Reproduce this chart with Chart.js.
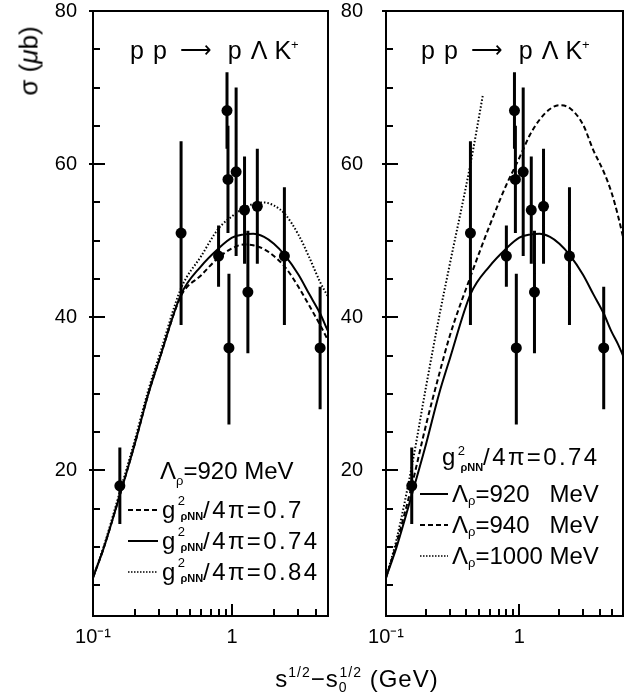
<!DOCTYPE html>
<html>
<head>
<meta charset="utf-8">
<script src="https://cdn.jsdelivr.net/npm/chart.js@4/dist/chart.umd.min.js"></script>
<style>
  body { margin: 0; background: #fff; }
  #wrap { position: relative; width: 632px; height: 696px; font-family: "Liberation Sans", Arial, sans-serif; color: #000; }
  canvas { position: absolute; top: 0; }
  #c1 { left: 0; }
  #c2 { left: 340px; }
  .t { position: absolute; white-space: nowrap; line-height: 1; transform: translateY(-50%); }
  .title { font-size: 25px; }
  .title .arr { font-size: 22px; position: relative; top: -2px; }
  .leg { font-size: 24px; }
  .g { letter-spacing: 2.4px; }
  .up { font-size: 13px; position: relative; top: -10px; }
  .dn { font-size: 11px; font-weight: bold; position: relative; top: 6px; margin-left: -7px; letter-spacing: 0; }
  .lsub { font-size: 13px; position: relative; top: 6px; }
  .row { display: flex; align-items: center; }
  .row svg { margin-right: 4px; }
  #ytitle { position: absolute; left: 29px; top: 61px; font-size: 26px; transform: translate(-50%, -50%) rotate(-90deg); white-space: nowrap; }
  #xtitle { position: absolute; left: 357px; top: 679px; font-size: 24px; letter-spacing: 1px; transform: translate(-50%, -50%); white-space: nowrap; }
  .xs { font-size: 14px; }
</style>
</head>
<body>
<div id="wrap">
  <canvas id="c1" width="340" height="696"></canvas>
  <canvas id="c2" width="292" height="696"></canvas>

  <div id="ytitle">σ (<i>μ</i>b)</div>
  <div id="xtitle">s<span class="xs" style="position:relative;top:-10px">1/2</span>−s<span class="xs" style="position:relative;top:5px">0</span><span class="xs" style="position:relative;top:-10px;margin-left:-8px">1/2</span> (GeV)</div>

  <div class="t title" style="left:130px; top:50px">p<span style="margin-left:9px">p</span><span class="arr" style="margin-left:13px">⟶</span><span style="margin-left:16px">p</span><span style="margin-left:9px">Λ</span><span style="margin-left:7px">K</span><span class="up">+</span></div>
  <div class="t title" style="left:421px; top:50px">p<span style="margin-left:9px">p</span><span class="arr" style="margin-left:13px">⟶</span><span style="margin-left:16px">p</span><span style="margin-left:9px">Λ</span><span style="margin-left:7px">K</span><span class="up">+</span></div>

  <div class="t leg" style="left:160px; top:471px">Λ<span class="lsub">ρ</span>=920 MeV</div>
  <div class="t leg row g" style="left:128px; top:510px"><svg width="30" height="4"><line x1="0" y1="2" x2="30" y2="2" stroke="#000" stroke-width="2" stroke-dasharray="5,3"/></svg>g<span class="up">2</span><span class="dn">ρNN</span>/4π=0.7</div>
  <div class="t leg row g" style="left:128px; top:541px"><svg width="30" height="4"><line x1="0" y1="2" x2="30" y2="2" stroke="#000" stroke-width="2"/></svg>g<span class="up">2</span><span class="dn">ρNN</span>/4π=0.74</div>
  <div class="t leg row g" style="left:128px; top:572px"><svg width="30" height="4"><line x1="0" y1="2" x2="30" y2="2" stroke="#000" stroke-width="1.5" stroke-dasharray="1.5,1.5"/></svg>g<span class="up">2</span><span class="dn">ρNN</span>/4π=0.84</div>

  <div class="t leg g" style="left:442px; top:457px">g<span class="up">2</span><span class="dn">ρNN</span>/4π=0.74</div>
  <div class="t leg row" style="left:420px; top:494px"><svg width="28" height="4"><line x1="0" y1="2" x2="28" y2="2" stroke="#000" stroke-width="2"/></svg>Λ<span class="lsub">ρ</span>=920&nbsp;&nbsp; MeV</div>
  <div class="t leg row" style="left:420px; top:525px"><svg width="28" height="4"><line x1="0" y1="2" x2="28" y2="2" stroke="#000" stroke-width="2" stroke-dasharray="5,3"/></svg>Λ<span class="lsub">ρ</span>=940&nbsp;&nbsp; MeV</div>
  <div class="t leg row" style="left:420px; top:556px"><svg width="28" height="4"><line x1="0" y1="2" x2="28" y2="2" stroke="#000" stroke-width="1.5" stroke-dasharray="1.5,1.5"/></svg>Λ<span class="lsub">ρ</span>=1000 MeV</div>
</div>

<script>
// Measured cross sections (same data in both panels)
const dataX = [0.156, 0.43, 0.80, 0.92, 0.935, 0.95, 1.07, 1.23, 1.30, 1.52, 2.38, 4.3];
const dataY = [18, 51, 48, 67, 58, 36, 59, 54, 43.3, 54.5, 48, 36];
const dataLow = [13, 39, 44, 62, 51, 26, 48, 47, 35.3, 47, 39, 28];
const dataHigh = [23, 63, 52, 72, 65, 45.7, 70, 61, 51.3, 62, 57, 44];

// Model curves
const curveX = [0.1, 0.12, 0.156, 0.2, 0.25, 0.3, 0.43, 0.6, 0.8, 1.0, 1.2, 1.42, 1.7, 2.0, 2.4, 3.0, 3.6, 4.3, 4.9, 5.5, 6.0];
const g074 = [6, 10, 16.8, 23.5, 30, 34.5, 43, 46.7, 49, 50.4, 50.8, 50.9, 50.5, 49.6, 48.1, 45.6, 43, 40.5, 38.2, 36.5, 35];
const g070 = [6, 10, 16.8, 23.5, 30, 34.5, 42.8, 45.5, 47.8, 49, 49.5, 49.4, 48.9, 48, 46.6, 44, 41.5, 39, 37];
const g084 = [6, 10.2, 17.2, 24, 30.5, 35, 43.8, 48, 51.6, 53.2, 54.2, 54.8, 55, 54.6, 53.5, 50.8, 47.8, 44.6, 42.7];
const lam940 = [6, 10.5, 18, 26, 32.5, 37.5, 45.3, 52, 57.3, 60.8, 63.8, 65.8, 67.2, 67.7, 67.3, 65.2, 61.8, 59, 56.4, 53.3, 50.5];
const lam1000X = [0.1, 0.12, 0.156, 0.2, 0.25, 0.3, 0.43, 0.533];
const lam1000 = [6, 11, 20.5, 31, 40, 46.8, 60, 69];

// Axis ticks
const yTicks = [5, 10, 15, 20, 25, 30, 35, 40, 45, 50, 55, 60, 65, 70, 75, 80];
const xTicks = [0.1, 0.2, 0.3, 0.4, 0.5, 0.6, 0.7, 0.8, 0.9, 1, 2, 3, 4, 5];

const FONT = "'Liberation Sans', Arial, sans-serif";

const pts = (xs, ys) => ys.map((y, i) => ({ x: xs[i], y }));

function errorBars() {
  const out = [];
  dataX.forEach((x, i) => {
    out.push({ x, y: dataLow[i] }, { x, y: dataHigh[i] }, { x, y: null });
  });
  return out;
}

function curve(data, dash, width) {
  return {
    data,
    showLine: true,
    borderColor: "#000",
    borderWidth: width || 2,
    borderDash: dash,
    pointRadius: 0,
    cubicInterpolationMode: "monotone",
  };
}

// Frame and inward tick marks
const framePlugin = {
  id: "frame",
  afterDatasetsDraw(chart) {
    const { ctx, chartArea: a, scales } = chart;
    ctx.save();
    ctx.strokeStyle = "#000";
    ctx.lineWidth = 2;
    ctx.strokeRect(a.left, a.top, a.right - a.left, a.bottom - a.top);
    ctx.beginPath();
    scales.y.ticks.forEach((t) => {
      const y = Math.round(scales.y.getPixelForValue(t.value));
      const major = t.value % 20 === 0;
      ctx.moveTo(a.left - (major ? 4 : 0), y);
      ctx.lineTo(a.left + (major ? 12 : 7), y);
    });
    scales.x.ticks.forEach((t) => {
      const x = Math.round(scales.x.getPixelForValue(t.value));
      const major = Math.abs(t.value - 1) < 1e-6 || Math.abs(t.value - 0.1) < 1e-6;
      ctx.moveTo(x, a.bottom);
      ctx.lineTo(x, a.bottom - (major ? 12 : 7));
    });
    ctx.stroke();
    ctx.restore();
  },
};

function makePanel(id, cfg) {
  return new Chart(document.getElementById(id), {
    type: "scatter",
    data: {
      datasets: [
        { data: pts(dataX, dataY), pointRadius: 5.5, pointBackgroundColor: "#000", pointBorderWidth: 0 },
        { data: errorBars(), showLine: true, borderColor: "#000", borderWidth: 3, pointRadius: 0, spanGaps: false },
        ...cfg.curves,
      ],
    },
    options: {
      responsive: false,
      animation: false,
      layout: { padding: { top: 11, right: cfg.padRight, left: 0, bottom: 0 } },
      plugins: { legend: { display: false }, tooltip: { enabled: false } },
      scales: {
        x: {
          type: "logarithmic",
          min: 0.1,
          max: cfg.xMax,
          afterBuildTicks: (s) => { s.ticks = xTicks.filter((v) => v < cfg.xMax).map((v) => ({ value: v })); },
          afterFit: (s) => { s.height = 80; s.paddingLeft = 0; s.paddingRight = 0; },
          grid: { display: false, drawTicks: false },
          border: { display: false },
          ticks: {
            autoSkip: false,
            maxRotation: 0,
            padding: 9,
            color: "#000",
            font: { family: FONT, size: 20 },
            callback: (v) => (Math.abs(v - 0.1) < 1e-6 ? "10⁻¹" : Math.abs(v - 1) < 1e-6 ? "1" : ""),
          },
        },
        y: {
          min: 1,
          max: 80,
          afterBuildTicks: (s) => { s.ticks = yTicks.map((v) => ({ value: v })); },
          afterFit: (s) => { s.width = cfg.yWidth; s.paddingTop = 0; s.paddingBottom = 0; },
          grid: { display: false, drawTicks: false },
          border: { display: false },
          ticks: {
            padding: cfg.yPad,
            color: "#000",
            font: { family: FONT, size: 20 },
            callback: (v) => (v % 20 === 0 ? String(v) : ""),
          },
        },
      },
    },
    plugins: [framePlugin],
  });
}

makePanel("c1", {
  xMax: 4.9,
  yWidth: 93,
  yPad: 16,
  padRight: 12,
  curves: [
    curve(pts(curveX, g070), [5, 3]),
    curve(pts(curveX, g074), []),
    curve(pts(curveX, g084), [1.5, 2], 2),
  ],
});

makePanel("c2", {
  xMax: 6.0,
  yWidth: 46,
  yPad: 23,
  padRight: 9,
  curves: [
    curve(pts(curveX, g074), []),
    curve(pts(curveX, lam940), [5, 3]),
    curve(pts(lam1000X, lam1000), [1.5, 2], 2),
  ],
});
</script>
</body>
</html>
